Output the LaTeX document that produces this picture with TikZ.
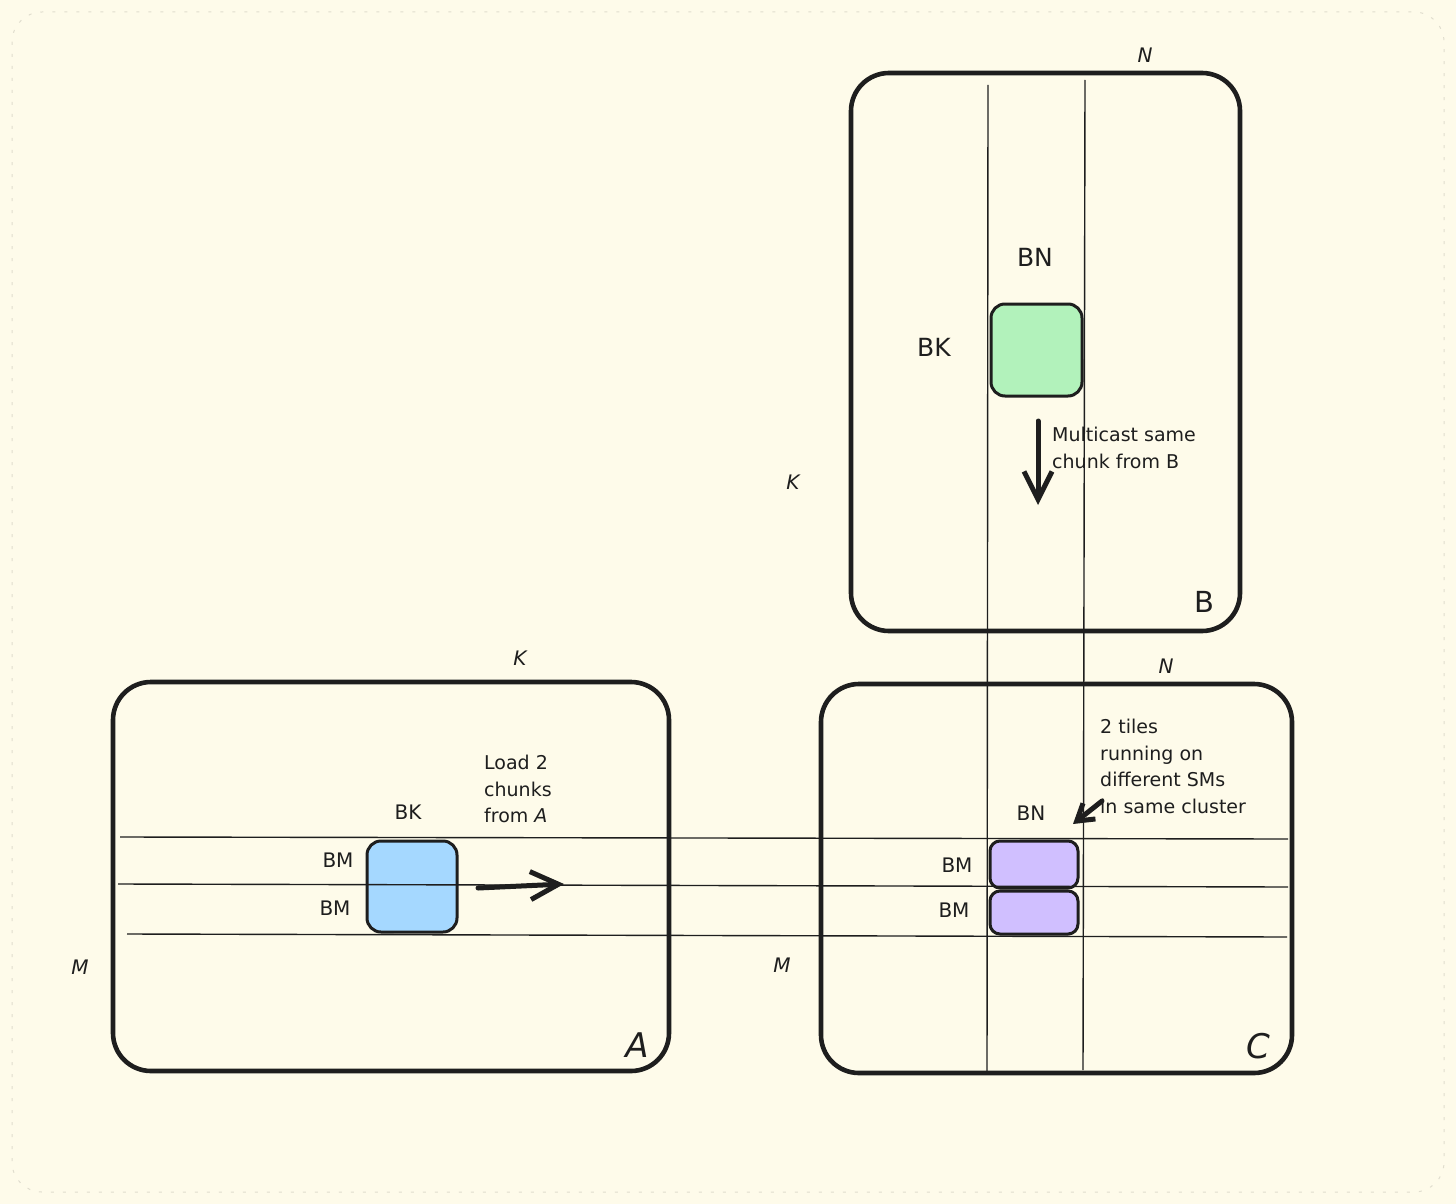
\documentclass[tikz,border=0pt]{standalone}
\usepackage{fontspec}
\setmainfont{DejaVu Sans}
\usetikzlibrary{arrows.meta}

\definecolor{paper}{HTML}{FEFBEA}
\definecolor{ink}{HTML}{1E1E1E}
\definecolor{tileblue}{HTML}{A5D8FF}
\definecolor{tilegreen}{HTML}{B2F2BB}
\definecolor{tilepurple}{HTML}{D0BFFF}

\begin{document}
\begin{tikzpicture}[x=1pt, y=-1pt,
		matbox/.style={draw=ink, line width=4.6pt, rounded corners=38pt, inner sep=0pt},
		tile/.style={draw=ink, line width=3pt, rounded corners=14pt, inner sep=0pt},
		gridline/.style={draw=ink, line width=1.4pt},
		fatarrow/.style={draw=ink, line width=5pt, line cap=round, -{Straight Barb[length=28pt, width=28pt, line width=5pt]}},
		dimlabel/.style={text=ink, font=\fontsize{20}{24}\selectfont\itshape},
		blocklabel/.style={text=ink, font=\fontsize{20}{24}\selectfont},
		biglabel/.style={text=ink, font=\fontsize{25}{30}\selectfont},
		namelabel/.style={text=ink, font=\fontsize{34}{40}\selectfont\itshape},
		note/.style={text=ink, align=left, anchor=north west, inner sep=0pt, font=\fontsize{19}{26.5}\selectfont}]
		\useasboundingbox[fill=paper] (0,0) rectangle (1456,1204);
		\draw[paper!88!black, line width=1pt, dash pattern=on 3pt off 9pt, rounded corners=30pt] (12,12) rectangle (1444,1192);

		% the three matrices
		\node[matbox, minimum width=389pt, minimum height=558pt] (B) at (1045.5,352) {};
		\node[matbox, minimum width=556pt, minimum height=389pt] (A) at (391,876.5) {};
		\node[matbox, minimum width=471pt, minimum height=389pt] (C) at (1056.5,878.5) {};

		% tiles
		\node[tile, fill=tilegreen, minimum width=91pt, minimum height=92pt] (tileB) at (1036.5,350) {};
		\node[tile, fill=tileblue, minimum width=90pt, minimum height=91pt] (tileA) at (412,886.5) {};
		\node[tile, fill=tilepurple, rounded corners=10pt, minimum width=88pt, minimum height=47pt] (tileC1) at (1034,864.5) {};
		\node[tile, fill=tilepurple, rounded corners=10pt, minimum width=88pt, minimum height=43pt] (tileC2) at (1034,912.5) {};

		% column of B running down into C
		\coordinate (colLtop) at (988,85);
		\coordinate (colLbot) at (987,1072);
		\coordinate (colRtop) at (1085,80);
		\coordinate (colRbot) at (1083,1070);
		\draw[gridline] (colLtop) -- (colLbot);
		\draw[gridline] (colRtop) -- (colRbot);

		% rows of A running across into C
		\coordinate (rowTa) at (120,837);
		\coordinate (rowTb) at (1288,839);
		\coordinate (rowMa) at (118,884);
		\coordinate (rowMb) at (1288,887);
		\coordinate (rowBa) at (127,934);
		\coordinate (rowBb) at (1287,937);
		\draw[gridline] (rowTa) -- (rowTb);
		\draw[gridline] (rowMa) -- (rowMb);
		\draw[gridline] (rowBa) -- (rowBb);

		% arrows
		\coordinate (castTail) at (1038,421);
		\coordinate (castHead) at (1038,505);
		\draw[fatarrow] (castTail) -- (castHead);
		\coordinate (loadTail) at (478,888);
		\coordinate (loadHead) at (564,884);
		\draw[fatarrow] (loadTail) -- (loadHead);
		\coordinate (tileTail) at (1102,801);
		\coordinate (tileHead) at (1073,824);
		\draw[fatarrow, -{Straight Barb[length=16pt, width=20pt, line width=5pt]}] (tileTail) -- (tileHead);

		% labels of B
		\node[dimlabel] (Bn) at (1145,55) {N};
		\node[dimlabel] (Bk) at (793,482) {K};
		\node[namelabel, font=\fontsize{29}{34}\selectfont] (Bname) at (1204,602) {B};
		\node[biglabel] (tileBn) at (1035,257) {BN};
		\node[biglabel] (tileBk) at (934,347) {BK};
		\node[note] (castNote) at (1052,427) {Multicast same\\chunk from B};

		% labels of A
		\node[dimlabel] (Ak) at (520,658) {K};
		\node[dimlabel] (Am) at (80,967) {M};
		\node[namelabel] (Aname) at (637,1045) {A};
		\node[blocklabel] (tileAk) at (408,812) {BK};
		\node[blocklabel] (tileAm1) at (338,860) {BM};
		\node[blocklabel] (tileAm2) at (335,908) {BM};
		\node[note] (loadNote) at (484,755) {Load 2\\chunks\\from \textit{A}};

		% labels of C
		\node[dimlabel] (Cn) at (1166,666) {N};
		\node[dimlabel] (Cm) at (782,965) {M};
		\node[namelabel] (Cname) at (1258,1046) {C};
		\node[blocklabel] (tileCn) at (1031,813) {BN};
		\node[blocklabel] (tileCm1) at (957,865) {BM};
		\node[blocklabel] (tileCm2) at (954,910) {BM};
		\node[note] (tileNote) at (1100,719) {2 tiles\\running on\\different SMs\\in same cluster};
	\end{tikzpicture}
\end{document}
